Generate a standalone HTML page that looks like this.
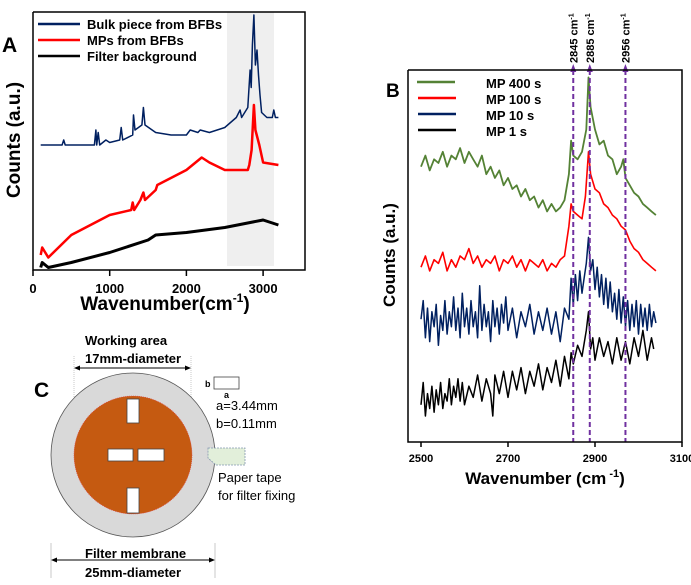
<!DOCTYPE html>
<html><head><meta charset="utf-8">
<style>
html,body{margin:0;padding:0;background:#fff;}
svg{display:block;font-family:"Liberation Sans",sans-serif;}
.b{font-weight:bold;}
</style></head>
<body>
<svg id="fig" width="691" height="585" viewBox="0 0 691 585">
  <g id="panelA">
    <rect x="227" y="12" width="47" height="254" fill="#efefef"/>
    <g id="aSeries"></g>
    <polyline points="33,12 33,270 305,270 305,12 33,12" fill="none" stroke="#000" stroke-width="1.5"/>
    <g id="aTicks"></g>
    <text x="2" y="52" font-size="21" class="b">A</text>
    <text transform="translate(20,140) rotate(-90)" text-anchor="middle" font-size="19" class="b">Counts  (a.u.)</text>
    <text x="165" y="310" text-anchor="middle" font-size="19" class="b">Wavenumber(cm<tspan font-size="12" dy="-8">-1</tspan><tspan dy="8">)</tspan></text>
    <g>
      <line x1="38" y1="24" x2="80" y2="24" stroke="#002060" stroke-width="2.5"/>
      <text x="87" y="29" font-size="13" class="b">Bulk piece from BFBs</text>
      <line x1="38" y1="40" x2="80" y2="40" stroke="#ff0000" stroke-width="2.5"/>
      <text x="87" y="45" font-size="13" class="b">MPs from BFBs</text>
      <line x1="38" y1="56" x2="80" y2="56" stroke="#000" stroke-width="2.5"/>
      <text x="87" y="61" font-size="13" class="b">Filter background</text>
    </g>
  </g>

  <g id="panelB">
    <g id="bSeries"></g>
    <g id="bPeaks"></g>
    <polyline points="408,70 408,442 682,442 682,70 408,70" fill="none" stroke="#000" stroke-width="1.5"/>
    <g id="bTicks"></g>
    <text x="386" y="97" font-size="19" class="b">B</text>
    <text transform="translate(395,255) rotate(-90)" text-anchor="middle" font-size="17" class="b">Counts  (a.u.)</text>
    <text x="545" y="484" text-anchor="middle" font-size="17" class="b">Wavenumber (cm<tspan font-size="11" dy="-7"> -1</tspan><tspan dy="7">)</tspan></text>
    <g>
      <line x1="417" y1="82" x2="455" y2="82" stroke="#548235" stroke-width="2.5"/>
      <text x="486" y="88" font-size="13" class="b">MP 400 s</text>
      <line x1="418" y1="98" x2="456" y2="98" stroke="#ff0000" stroke-width="2.5"/>
      <text x="486" y="104" font-size="13" class="b">MP 100 s</text>
      <line x1="418" y1="114" x2="456" y2="114" stroke="#002060" stroke-width="2.5"/>
      <text x="486" y="120" font-size="13" class="b">MP 10 s</text>
      <line x1="418" y1="130" x2="456" y2="130" stroke="#000" stroke-width="2.5"/>
      <text x="486" y="136" font-size="13" class="b">MP 1 s</text>
    </g>
  </g>

  <g id="panelC">
    <text x="34" y="397" font-size="21" class="b">C</text>
    <text x="85" y="345" font-size="13" class="b">Working area</text>
    <text x="85" y="363" font-size="13" class="b">17mm-diameter</text>
    <line x1="74" y1="356" x2="74" y2="425" stroke="#bbb" stroke-width="0.8" stroke-dasharray="1,1"/>
    <line x1="191" y1="356" x2="191" y2="425" stroke="#bbb" stroke-width="0.8" stroke-dasharray="1,1"/>
    <line x1="77" y1="368" x2="188" y2="368" stroke="#000" stroke-width="1"/>
    <polygon points="74,368 80,365.5 80,370.5" fill="#000"/>
    <polygon points="191,368 185,365.5 185,370.5" fill="#000"/>
    <circle cx="133" cy="455" r="82" fill="#d9d9d9" stroke="#555" stroke-width="0.8"/>
    <circle cx="133" cy="455" r="59" fill="#c55a11" stroke="#e04040" stroke-width="0.6" stroke-dasharray="1,1"/>
    <rect x="127" y="399" width="12" height="24" fill="#fff" stroke="#444" stroke-width="0.8"/>
    <rect x="127" y="488" width="12" height="25" fill="#fff" stroke="#444" stroke-width="0.8"/>
    <rect x="108" y="449" width="25" height="12" fill="#fff" stroke="#444" stroke-width="0.8"/>
    <rect x="138" y="449" width="26" height="12" fill="#fff" stroke="#444" stroke-width="0.8"/>
    <text x="205" y="387" font-size="9" class="b">b</text>
    <rect x="214" y="377" width="25" height="12" fill="#fff" stroke="#444" stroke-width="0.8"/>
    <text x="224" y="398" font-size="9" class="b">a</text>
    <text x="216" y="410" font-size="13">a=3.44mm</text>
    <text x="216" y="428" font-size="13">b=0.11mm</text>
    <path d="M208,448 L245,448 L245,465 L216,465 L208,458 Z" fill="#e2efda" stroke="#8497b0" stroke-width="0.8" stroke-dasharray="2,1"/>
    <text x="218" y="482" font-size="13">Paper tape</text>
    <text x="218" y="500" font-size="13">for filter fixing</text>
    <line x1="51" y1="543" x2="51" y2="578" stroke="#bbb" stroke-width="0.8"/>
    <line x1="215" y1="543" x2="215" y2="578" stroke="#bbb" stroke-width="0.8"/>
    <text x="85" y="558" font-size="13" class="b">Filter membrane</text>
    <line x1="54" y1="560" x2="212" y2="560" stroke="#000" stroke-width="1"/>
    <polygon points="51,560 57,557.5 57,562.5" fill="#000"/>
    <polygon points="215,560 209,557.5 209,562.5" fill="#000"/>
    <text x="85" y="577" font-size="13" class="b">25mm-diameter</text>
  </g>
</svg>
<script>
// ---- Panel A data ----
const aTickLabels = [0, 1000, 2000, 3000];
const aBulkX = [100,380,400,420,800,820,830,850,870,950,1000,1130,1150,1170,1300,1310,1330,1420,1440,1460,1600,1800,2000,2050,2150,2180,2300,2500,2650,2700,2720,2800,2830,2845,2860,2880,2900,2920,2940,2960,2980,3050,3120,3140,3160,3200];
const aBulkY = [50,50,52,50,50,56,50,55,50,52,51,52,57,52,54,62,56,58,65,58,55,54,54,56,55,56,55,57,61,64,61,65,80,73,90,102,82,88,78,70,63,61,61,64,61,61];
const aMpsX = [100,120,200,500,1000,1280,1300,1320,1400,1440,1460,1600,1620,2000,2200,2300,2500,2600,2800,2820,2850,2880,2900,2950,3000,3200];
const aMpsY = [6,9,5,14,22,24,27,24,28,31,28,32,34,40,45,43,40,40,40,42,48,66,56,50,43,42];
const aFilterX = [100,120,200,500,1000,1500,1600,2000,2500,3000,3100,3200];
const aFilterY = [1,3,1,3,7,12,14,15,17,20,19,18];

// ---- Panel B data ----
const bTickLabels = [2500, 2700, 2900, 3100];
const bPeakPos = [2850, 2888, 2970];
const bPeakLabels = ["2845", "2885", "2956"];
const b400X = [2500,2510,2520,2530,2540,2550,2560,2570,2580,2590,2600,2610,2620,2630,2640,2650,2660,2670,2680,2690,2700,2710,2720,2730,2740,2750,2760,2770,2780,2790,2800,2810,2820,2830,2840,2845,2850,2860,2870,2880,2885,2890,2900,2910,2920,2930,2940,2950,2960,2965,2970,2980,2990,3000,3010,3020,3030,3040];
const b400Y = [74,77,73,76,75,78,74,77,76,79,75,78,76,74,77,72,74,71,73,69,71,68,69,66,68,65,66,63,65,62,64,62,63,65,72,81,77,76,78,84,98,90,84,80,81,77,76,72,74,76,71,69,67,66,64,63,62,61];
const b100X = [2500,2510,2520,2530,2540,2550,2560,2570,2580,2590,2600,2610,2620,2630,2640,2650,2660,2670,2680,2690,2700,2710,2720,2730,2740,2750,2760,2770,2780,2790,2800,2810,2820,2830,2840,2845,2850,2860,2870,2878,2885,2890,2900,2910,2920,2930,2940,2950,2960,2970,2980,2990,3000,3010,3020,3030,3040];
const b100Y = [47,50,46,49,48,51,46,49,47,50,49,52,48,50,47,49,48,50,46,49,48,50,47,49,46,49,48,47,49,46,48,47,49,50,58,64,62,61,60,66,78,72,68,67,64,63,61,60,58,57,54,52,51,49,48,47,46];
const b10X = [2500,2505,2510,2515,2520,2525,2530,2535,2540,2545,2550,2555,2560,2565,2570,2575,2580,2585,2590,2595,2600,2605,2610,2615,2620,2625,2630,2635,2640,2645,2650,2655,2660,2665,2670,2675,2680,2685,2690,2695,2700,2710,2720,2730,2740,2750,2760,2770,2780,2790,2800,2810,2820,2830,2840,2845,2850,2855,2860,2865,2870,2875,2880,2885,2890,2895,2900,2905,2910,2915,2920,2925,2930,2935,2940,2945,2950,2955,2960,2965,2970,2975,2980,2985,2990,2995,3000,3005,3010,3015,3020,3025,3030,3035,3040];
const b10Y = [33,38,28,36,27,35,31,37,26,34,30,38,29,35,31,39,30,36,28,40,31,36,29,38,31,35,28,42,30,37,31,35,27,38,31,36,29,37,32,39,30,36,28,35,31,37,29,35,30,36,29,35,27,36,33,44,37,45,38,46,40,44,48,55,46,49,41,47,39,45,37,44,36,43,35,40,33,41,32,39,31,38,30,37,31,38,29,37,31,36,30,37,31,35,32];
const b1X = [2500,2505,2510,2515,2520,2525,2530,2535,2540,2545,2550,2555,2560,2565,2570,2575,2580,2585,2590,2595,2600,2610,2620,2630,2640,2650,2660,2665,2670,2680,2690,2700,2710,2720,2730,2740,2750,2760,2770,2780,2790,2800,2810,2820,2830,2840,2845,2850,2860,2870,2880,2885,2890,2895,2900,2910,2920,2930,2940,2950,2960,2970,2980,2990,3000,3010,3020,3030,3035];
const b1Y = [10,16,7,13,9,15,8,14,10,16,9,13,11,17,10,15,12,17,11,16,10,15,12,18,11,17,13,7,18,13,19,12,19,14,20,13,19,15,21,14,20,16,22,15,23,17,24,21,26,23,30,35,25,28,22,28,23,27,21,28,22,27,21,28,23,30,22,28,25];

const NS = "http://www.w3.org/2000/svg";
function ax(v){ return 33 + v * 0.0767; }
function ay(v){ return 270 - v * 2.5; }
function bx(v){ return 421 + (v - 2500) * 0.435; }
function by(v){ return 442 - v * 3.72; }

function drawLine(g, xs, ys, fx, fy, color, w, name){
  const p = document.createElementNS(NS, "polyline");
  p.setAttribute("points", xs.map((x,i)=>fx(x).toFixed(1)+","+fy(ys[i]).toFixed(1)).join(" "));
  p.setAttribute("fill","none");
  p.setAttribute("stroke",color);
  p.setAttribute("stroke-width",w);
  p.setAttribute("stroke-linejoin","round");
  
  
  g.appendChild(p);
}
const aS = document.getElementById("aSeries");
drawLine(aS, aFilterX, aFilterY, ax, ay, "#000", 3, "series-filter-background");
drawLine(aS, aMpsX, aMpsY, ax, ay, "#ff0000", 2.5, "series-mps-from-bfbs");
drawLine(aS, aBulkX, aBulkY, ax, ay, "#002060", 1.5, "series-bulk-piece");

const aT = document.getElementById("aTicks");
aTickLabels.forEach(t=>{
  const l = document.createElementNS(NS,"line");
  l.setAttribute("x1",ax(t)); l.setAttribute("x2",ax(t));
  l.setAttribute("y1",270); l.setAttribute("y2",276);
  l.setAttribute("stroke","#000"); l.setAttribute("stroke-width",1.5);
  
  
  aT.appendChild(l);
  const tx = document.createElementNS(NS,"text");
  tx.setAttribute("x",ax(t)); tx.setAttribute("y",293);
  tx.setAttribute("text-anchor","middle"); tx.setAttribute("font-size","13"); tx.setAttribute("font-weight","bold");
  tx.textContent = t;
  
  
  aT.appendChild(tx);
});

const bS = document.getElementById("bSeries");
drawLine(bS, b1X, b1Y, bx, by, "#000", 1.5, "series-mp-1s");
drawLine(bS, b10X, b10Y, bx, by, "#002060", 1.5, "series-mp-10s");
drawLine(bS, b100X, b100Y, bx, by, "#ff0000", 1.6, "series-mp-100s");
drawLine(bS, b400X, b400Y, bx, by, "#548235", 1.8, "series-mp-400s");

const bP = document.getElementById("bPeaks");
bPeakPos.forEach((p,i)=>{
  const x = bx(p);
  const l = document.createElementNS(NS,"line");
  l.setAttribute("x1",x); l.setAttribute("x2",x);
  l.setAttribute("y1",70); l.setAttribute("y2",442);
  l.setAttribute("stroke","#7030a0"); l.setAttribute("stroke-width",2); l.setAttribute("stroke-dasharray","5,3");
  
  
  bP.appendChild(l);
  const a = document.createElementNS(NS,"polygon");
  a.setAttribute("points",(x-3)+",72 "+(x+3)+",72 "+x+",64");
  a.setAttribute("fill","#7030a0");
  
  
  bP.appendChild(a);
  const t = document.createElementNS(NS,"text");
  t.setAttribute("transform","translate("+(x+4)+",63) rotate(-90)");
  t.setAttribute("font-size","11");
  t.setAttribute("font-weight","bold");
  t.innerHTML = bPeakLabels[i] + " cm<tspan font-size='7' dy='-4'>-1</tspan>";
  
  
  bP.appendChild(t);
});

const bT = document.getElementById("bTicks");
bTickLabels.forEach(t=>{
  const l = document.createElementNS(NS,"line");
  l.setAttribute("x1",bx(t)); l.setAttribute("x2",bx(t));
  l.setAttribute("y1",442); l.setAttribute("y2",447);
  l.setAttribute("stroke","#000"); l.setAttribute("stroke-width",1.5);
  
  
  bT.appendChild(l);
  const tx = document.createElementNS(NS,"text");
  tx.setAttribute("x",bx(t)); tx.setAttribute("y",462);
  tx.setAttribute("text-anchor","middle"); tx.setAttribute("font-size","11"); tx.setAttribute("font-weight","bold");
  tx.textContent = t;
  
  
  bT.appendChild(tx);
});
</script>
</body></html>
